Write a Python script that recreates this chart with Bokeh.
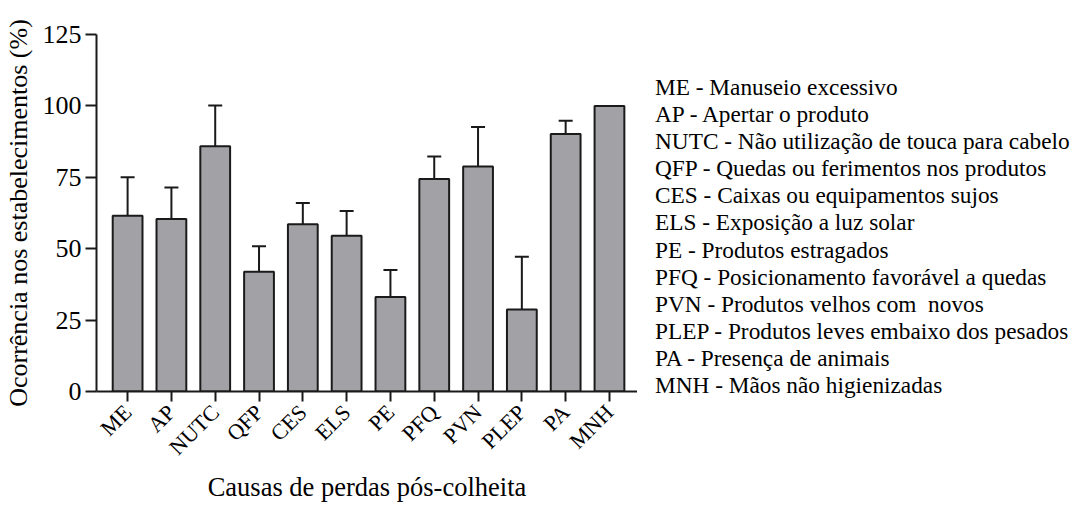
import math
import html
from bokeh.plotting import figure
from bokeh.models import (ColumnDataSource, Range1d, FixedTicker, Whisker, TeeHead, Div)
from bokeh.layouts import row
from bokeh.embed import file_html
from bokeh.resources import INLINE

# ---- data ----
categories = ["ME", "AP", "NUTC", "QFP", "CES", "ELS", "PE", "PFQ", "PVN", "PLEP", "PA", "MNH"]
means = [61.5, 60.4, 85.9, 41.9, 58.6, 54.5, 33.1, 74.4, 78.8, 28.7, 90.2, 100.0]
errors = [13.5, 11.0, 14.2, 9.0, 7.4, 8.7, 9.4, 7.9, 13.8, 18.5, 4.6, 0.0]
y_ticks = [0, 25, 50, 75, 100, 125]
x_title = "Causas de perdas pós-colheita"
y_title = "Ocorrência nos estabelecimentos (%)"
legend_lines = [
    "ME - Manuseio excessivo",
    "AP - Apertar o produto",
    "NUTC - Não utilização de touca para cabelo",
    "QFP - Quedas ou ferimentos nos produtos",
    "CES - Caixas ou equipamentos sujos",
    "ELS - Exposição a luz solar",
    "PE - Produtos estragados",
    "PFQ - Posicionamento favorável a quedas",
    "PVN - Produtos velhos com  novos",
    "PLEP - Produtos leves embaixo dos pesados",
    "PA - Presença de animais",
    "MNH - Mãos não higienizadas",
]

FONT = "Liberation Serif"
BAR_FILL = "#a2a2a6"
INK = "#1a1a1a"

# layout (pixels)
W, H = 1067, 504
PLOT_W = 637
LEFT, TOP, BOTTOM = 91, 34, 109

xs = list(range(len(categories)))
src = ColumnDataSource(dict(x=xs, mean=means))
wx = [x for x, e in zip(xs, errors) if e > 0]
wlo = [m for m, e in zip(means, errors) if e > 0]
whi = [m + e for m, e in zip(means, errors) if e > 0]
wsrc = ColumnDataSource(dict(x=wx, lower=wlo, upper=whi))

p = figure(width=PLOT_W, height=H, output_backend="svg", toolbar_location=None,
           x_range=Range1d(-0.71, 11.64), y_range=Range1d(0, 125))
p.min_border_left = LEFT
p.min_border_right = 0
p.min_border_top = TOP
p.min_border_bottom = BOTTOM
p.outline_line_color = None
p.xgrid.visible = False
p.ygrid.visible = False
p.background_fill_color = "white"
p.border_fill_color = "white"

p.vbar(x="x", top="mean", bottom=0, width=0.68, source=src,
       fill_color=BAR_FILL, line_color=INK, line_width=2)

wh = Whisker(base="x", lower="lower", upper="upper", source=wsrc,
             line_color=INK, line_width=2,
             upper_head=TeeHead(size=14, line_color=INK, line_width=2),
             lower_head=None)
p.add_layout(wh)

xa = p.xaxis[0]
xa.ticker = FixedTicker(ticks=xs)
xa.major_label_overrides = {i: c for i, c in zip(xs, categories)}
xa.major_label_orientation = math.pi / 4
xa.major_label_text_font = FONT
xa.major_label_text_font_size = "22px"
xa.major_label_text_color = "black"
xa.major_label_standoff = 7
xa.major_tick_out = 10
xa.major_tick_in = 0
xa.minor_tick_out = 0
xa.minor_tick_in = 0
xa.axis_line_width = 2
xa.axis_line_color = INK
xa.major_tick_line_width = 2
xa.major_tick_line_color = INK
xa.axis_label = x_title
xa.axis_label_text_font = FONT
xa.axis_label_text_font_size = "26.5px"
xa.axis_label_text_font_style = "normal"
xa.axis_label_text_color = "black"
xa.axis_label_standoff = 0

ya = p.yaxis[0]
ya.ticker = FixedTicker(ticks=y_ticks)
ya.major_label_text_font = FONT
ya.major_label_text_font_size = "26px"
ya.major_label_text_color = "black"
ya.major_label_standoff = 4
ya.major_tick_out = 11
ya.major_tick_in = 0
ya.minor_tick_out = 0
ya.minor_tick_in = 0
ya.axis_line_width = 2
ya.axis_line_color = INK
ya.major_tick_line_width = 2
ya.major_tick_line_color = INK
ya.axis_label = y_title
ya.axis_label_text_font = FONT
ya.axis_label_text_font_size = "26px"
ya.axis_label_text_font_style = "normal"
ya.axis_label_text_color = "black"
ya.axis_label_standoff = 7

# legend text block (right of the plot)
body = "".join("<div>%s</div>" % html.escape(t).replace("  ", " &nbsp;") for t in legend_lines)
legend_html = ('<div style="font-family:\'Liberation Serif\',serif;font-size:23.3px;'
               'line-height:27.1px;color:#000;padding-top:69px;padding-left:13px;'
               'white-space:nowrap;">' + body + '</div>')
legend = Div(text=legend_html, width=W - PLOT_W, height=H)

layout = row(p, legend)
open("out.html", "w").write(file_html(layout, INLINE))
